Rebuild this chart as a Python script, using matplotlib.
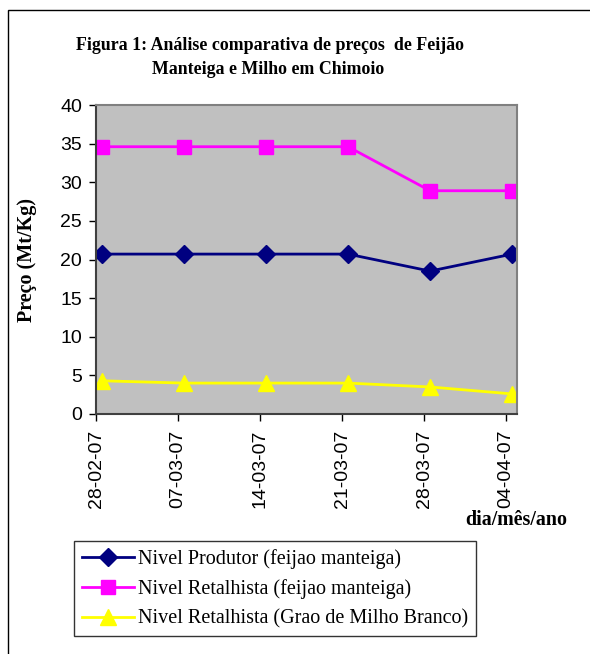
import matplotlib
matplotlib.use("Agg")
import matplotlib.pyplot as plt
from matplotlib.patches import Rectangle
import numpy as np

dates = ["28-02-07", "07-03-07", "14-03-07", "21-03-07", "28-03-07", "04-04-07"]
produtor = [20.7, 20.7, 20.7, 20.7, 18.5, 20.7]
retalhista = [34.6, 34.6, 34.6, 34.6, 28.9, 28.9]
milho = [4.3, 4.0, 4.0, 4.0, 3.5, 2.6]

W, H = 590, 654
fig = plt.figure(figsize=(W / 100, H / 100), dpi=100)
serif = "Liberation Serif"
sans = "Liberation Sans"

# outer frame of the chart object
fig.patches.append(Rectangle((8 / W, -0.01), 1.0, 1 - 10 / H + 0.01, transform=fig.transFigure,
                             fill=False, ec="black", lw=1.0))

ax = fig.add_axes([96 / W, 1 - 414 / H, (517 - 96) / W, (414 - 105) / H])
ax.set_facecolor("#C0C0C0")
x = np.arange(len(dates))
ax.plot(x, produtor, color="#000080", lw=2, marker="D", ms=9.5, label="Nivel Produtor (feijao manteiga)")
ax.plot(x, retalhista, color="#FF00FF", lw=2, marker="s", ms=10.5, label="Nivel Retalhista (feijao manteiga)")
ax.plot(x, milho, color="#FFFF00", lw=2, marker="^", ms=11, label="Nivel Retalhista (Grao de Milho Branco)")

ax.set_xlim(-0.073, 5.06)
ax.set_ylim(0, 40)
ax.set_yticks(range(0, 41, 5))
ax.set_xticks(x - 0.073)
ax.set_xticklabels(dates, rotation=90, fontfamily=sans, fontsize=14)
for lab in ax.get_yticklabels():
    lab.set_fontfamily(sans)
    lab.set_fontsize(14)
ax.tick_params(direction="out", length=5, width=1, color="black")
ax.tick_params(axis="x", pad=6)
ax.tick_params(axis="y", pad=5)
for s in ["top", "right"]:
    ax.spines[s].set_color("#808080")
    ax.spines[s].set_linewidth(1.5)
for s in ["left", "bottom"]:
    ax.spines[s].set_color("#404040")
    ax.spines[s].set_linewidth(1.5)

fig.text(270 / W, 1 - 46 / H, "Figura 1: Análise comparativa de preços  de Feijão",
         ha="center", va="center", fontfamily=serif, fontweight="bold", fontsize=12.9)
fig.text(268 / W, 1 - 70 / H, "Manteiga e Milho em Chimoio",
         ha="center", va="center", fontfamily=serif, fontweight="bold", fontsize=12.9)
fig.text(27 / W, 1 - 260 / H, "Preço (Mt/Kg)", rotation=90, ha="center", va="center",
         fontfamily=serif, fontweight="bold", fontsize=14.5)
fig.text(567 / W, 1 - 520 / H, "dia/mês/ano", ha="right", va="center",
         fontfamily=serif, fontweight="bold", fontsize=14.4)

leg = fig.legend(loc="upper left", bbox_to_anchor=(74 / W, 1 - 541 / H),
                 prop={"family": serif, "size": 14.5}, frameon=True, fancybox=False,
                 edgecolor="black", borderpad=0.38, labelspacing=0.52, handlelength=2.6,
                 handletextpad=0.2, borderaxespad=0)
leg.get_frame().set_linewidth(1.0)

fig.savefig("out.png", dpi=100)
